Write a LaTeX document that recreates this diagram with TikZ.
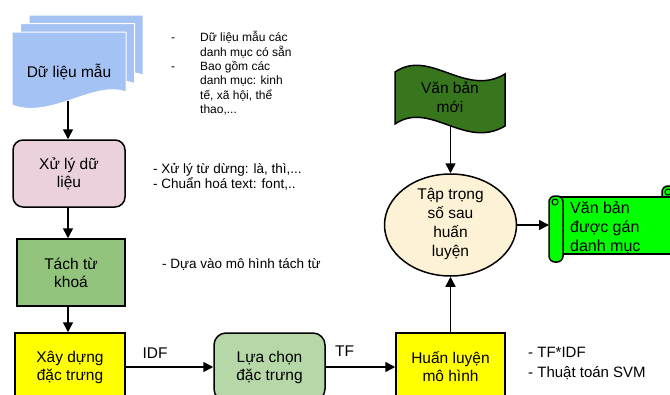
\documentclass[tikz,border=0pt]{standalone}
\usepackage{fontspec}
\setmainfont{Liberation Sans}
\usetikzlibrary{arrows.meta,shapes.geometric}
\definecolor{cdoc}{HTML}{A4C2F4}
\definecolor{cproc}{HTML}{EAD1DC}
\definecolor{ctach}{HTML}{93C47D}
\definecolor{clua}{HTML}{B6D7A8}
\definecolor{cell}{HTML}{FDF1D6}
\definecolor{cflag}{HTML}{38761D}
\definecolor{cscroll}{HTML}{00FF00}
\definecolor{cyel}{HTML}{FFFF00}
\newcommand\boxfont{\fontsize{15.5}{18}\selectfont}
\newcommand\notefont{\fontsize{13.5}{15.5}\selectfont}
\begin{document}
\begin{tikzpicture}[x=1pt,y=-1pt,
  box/.style={draw, line width=1.5pt, align=center, font=\boxfont, inner sep=0pt},
  arr/.style={line width=1.5pt, -{Triangle[length=10pt,width=10pt]}},
  shapeline/.style={draw=black, line width=1.5pt},
  lbl/.style={font=\fontsize{15.5}{18}\selectfont, inner sep=0pt}]
\useasboundingbox (0,0) rectangle (670,394);

% document stack
\foreach \d in {17,8.5,0}{
  \begin{scope}[shift={(\d,-\d)}]
    \path[fill=cdoc, draw=white, line width=1pt] (12,32) -- (126,32) -- (126,92)
      .. controls (95,80) and (50,120) .. (12,105) -- cycle;
  \end{scope}
}
\node[lbl] (data) at (69,72) {Dữ liệu mẫu};
\coordinate (datab) at (68,101);

% left column boxes
\node[box, rounded corners=10pt, fill=cproc, minimum width=112pt, minimum height=67pt] (proc) at (69,173.5) {Xử lý dữ\\liệu};
\node[box, fill=ctach, minimum width=108pt, minimum height=67pt] (tach) at (71,272.5) {Tách từ\\khoá};
\node[box, fill=cyel, minimum width=110pt, minimum height=68pt] (xay) at (70,367) {Xây dựng\\đặc trưng};
\node[box, rounded corners=12pt, fill=clua, minimum width=111pt, minimum height=68pt] (lua) at (269.5,367) {Lựa chọn\\đặc trưng};
\node[box, fill=cyel, minimum width=109pt, minimum height=68pt] (huan) at (450.5,367) {Huấn luyện\\mô hình};

% ellipse
\node[ellipse, draw, line width=1.5pt, fill=cell, minimum width=132pt, minimum height=102pt, inner sep=0pt] (ell) at (450.5,225) {};
\node[align=center, font=\fontsize{15.5}{19}\selectfont, inner sep=0pt] (elltxt) at (450.5,224) {Tập trọng\\số sau\\huấn\\luyện};

% flag
\path[shapeline, fill=cflag] (395,72) .. controls (430,48) and (465,98) .. (505,74)
  -- (505,126) .. controls (465,150) and (430,100) .. (395,124) -- cycle;
\node[align=center, font=\fontsize{15.5}{19}\selectfont, inner sep=0pt] (flag) at (450,97) {Văn bản\\mới};
\coordinate (flagb) at (450.5,125);

% scroll
\draw[shapeline, fill=cscroll, rounded corners=6pt] (662,186) rectangle (678,246);
\draw[line width=1pt] (668,192) circle (3);
\draw[shapeline, fill=cscroll] (556,197) rectangle (680,254);
\draw[shapeline, fill=cscroll, rounded corners=6pt] (549,196) rectangle (563,262);
\draw[line width=1pt] (555,202) circle (3);
\node[anchor=base west, inner sep=0pt, align=left, font=\fontsize{16}{19}\selectfont] (scroll) at (570,213)
  {\begin{tabular}[t]{@{}l@{}}Văn bản\\được gán\\danh mục\end{tabular}};
\coordinate (scrollL) at (549,225);

% connectors
\draw[arr] (datab) -- (datab |- proc.north);
\draw[arr] (proc.south -| datab) -- (tach.north -| datab);
\draw[arr] (tach.south -| datab) -- (xay.north -| datab);
\draw[arr] (xay) -- (lua);
\draw[arr] (lua) -- (huan);
\draw[arr] (huan) -- (ell);
\draw[arr] (flagb) -- (ell);
\draw[arr] (ell) -- (scrollL);
\node[lbl, anchor=base] (idf) at (155,358) {IDF};
\node[lbl, anchor=base west] (tf) at (335,356) {TF};

% annotations
\node[anchor=base west, inner sep=0pt, font=\fontsize{12}{14.3}\selectfont] (n1) at (171,41.5)
  {\begin{tabular}[t]{@{}l@{\hspace{25pt}}l@{}}-&Dữ liệu mẫu các\\&danh mục có sẵn\\-&Bao gồm các\\&danh mục: kinh\\&tế, xã hội, thể\\&thao,...\end{tabular}};
\node[anchor=base west, inner sep=0pt, font=\notefont] (n2) at (153,173)
  {\begin{tabular}[t]{@{}l@{}}- Xử lý từ dừng: là, thì,...\\- Chuẩn hoá text: font,..\end{tabular}};
\node[anchor=base west, inner sep=0pt, font=\notefont] (n3) at (162,268) {- Dựa vào mô hình tách từ};
\node[anchor=base west, inner sep=0pt, font=\fontsize{15}{20}\selectfont] (n4) at (528,357)
  {\begin{tabular}[t]{@{}l@{}}- TF*IDF\\- Thuật toán SVM\end{tabular}};
\end{tikzpicture}
\end{document}
